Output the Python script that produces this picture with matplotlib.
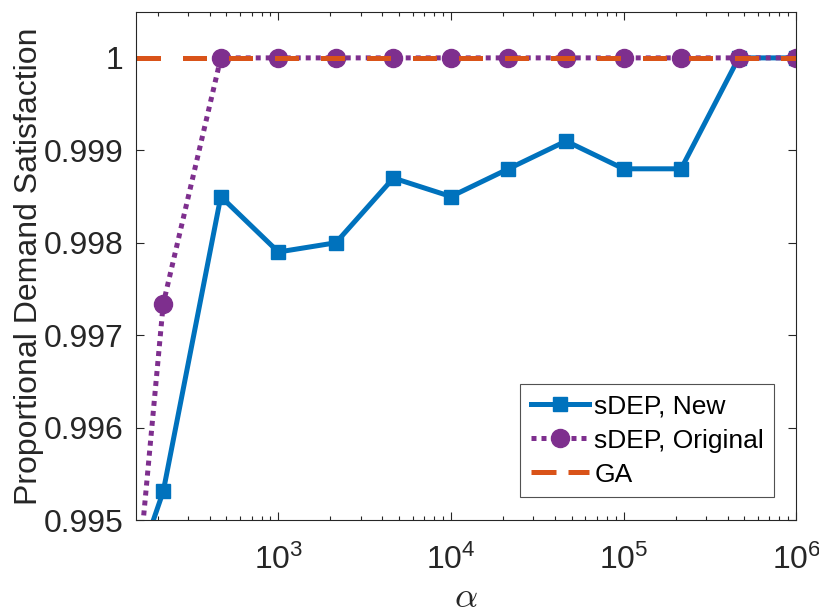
import numpy as np
import matplotlib.pyplot as plt

plt.rcParams['font.family'] = ['Liberation Sans', 'DejaVu Sans']
plt.rcParams['mathtext.fontset'] = 'cm'

alpha = [1e2, 2.154e2, 4.642e2, 1e3, 2.154e3, 4.642e3, 1e4,
         2.154e4, 4.642e4, 1e5, 2.154e5, 4.642e5, 1e6]
sdep_new = [0.9935, 0.99531, 0.9985, 0.9979, 0.9980, 0.9987, 0.9985,
            0.9988, 0.9991, 0.9988, 0.9988, 1.0, 1.0]
sdep_orig = [0.9906, 0.99734, 1.0, 1.0, 1.0, 1.0, 1.0,
             1.0, 1.0, 1.0, 1.0, 1.0, 1.0]
ga = [1.0] * len(alpha)

fig = plt.figure(figsize=(8.2, 6.14), dpi=100)
ax = fig.add_axes([0.166, 0.153, 0.805, 0.828])

ax.plot(alpha, sdep_new, color='#0072BD', lw=3.6, marker='s', ms=10,
        label='sDEP, New')
ax.plot(alpha, sdep_orig, color='#7E2F8E', lw=3.6, ls=(0, (1, 1)),
        marker='o', ms=13, label='sDEP, Original')
ax.plot(alpha, ga, color='#D95319', lw=3.6, ls=(3.1, (4.8, 4.4)),
        label='GA')

ax.set_xscale('log')
ax.set_xlim(150, 1e6)
ax.set_ylim(0.995, 1.0005)
ax.set_yticks([0.995, 0.996, 0.997, 0.998, 0.999, 1.0])
ax.set_yticklabels(['0.995', '0.996', '0.997', '0.998', '0.999', '1'])
ax.set_xticks([1e3, 1e4, 1e5, 1e6])

ax.tick_params(which='both', direction='in', top=True, right=True,
               labelsize=23, colors='#262626', width=0.8)
ax.tick_params(which='major', length=6)
ax.tick_params(which='minor', length=3)
ax.tick_params(axis='x', pad=18)
ax.tick_params(axis='y', pad=9)
for s in ax.spines.values():
    s.set_color('#262626')
    s.set_linewidth(0.8)

ax.set_xlabel(r'$\alpha$', fontsize=26, color='#262626', labelpad=3)
ax.set_ylabel('Proportional Demand Satisfaction', fontsize=23,
              color='#262626', labelpad=0)

leg = ax.legend(loc='lower right', fontsize=19, fancybox=False,
                edgecolor='#262626', handlelength=2.2, handletextpad=0.2,
                borderpad=0.4, labelspacing=0.38, borderaxespad=0,
                bbox_to_anchor=(0.967, 0.045))
leg.get_frame().set_linewidth(0.8)
leg.legend_handles[2].set_linestyle((0, (5, 2.4)))
for t in leg.get_texts():
    t.set_color('black')

fig.savefig('out.png', dpi=100)
